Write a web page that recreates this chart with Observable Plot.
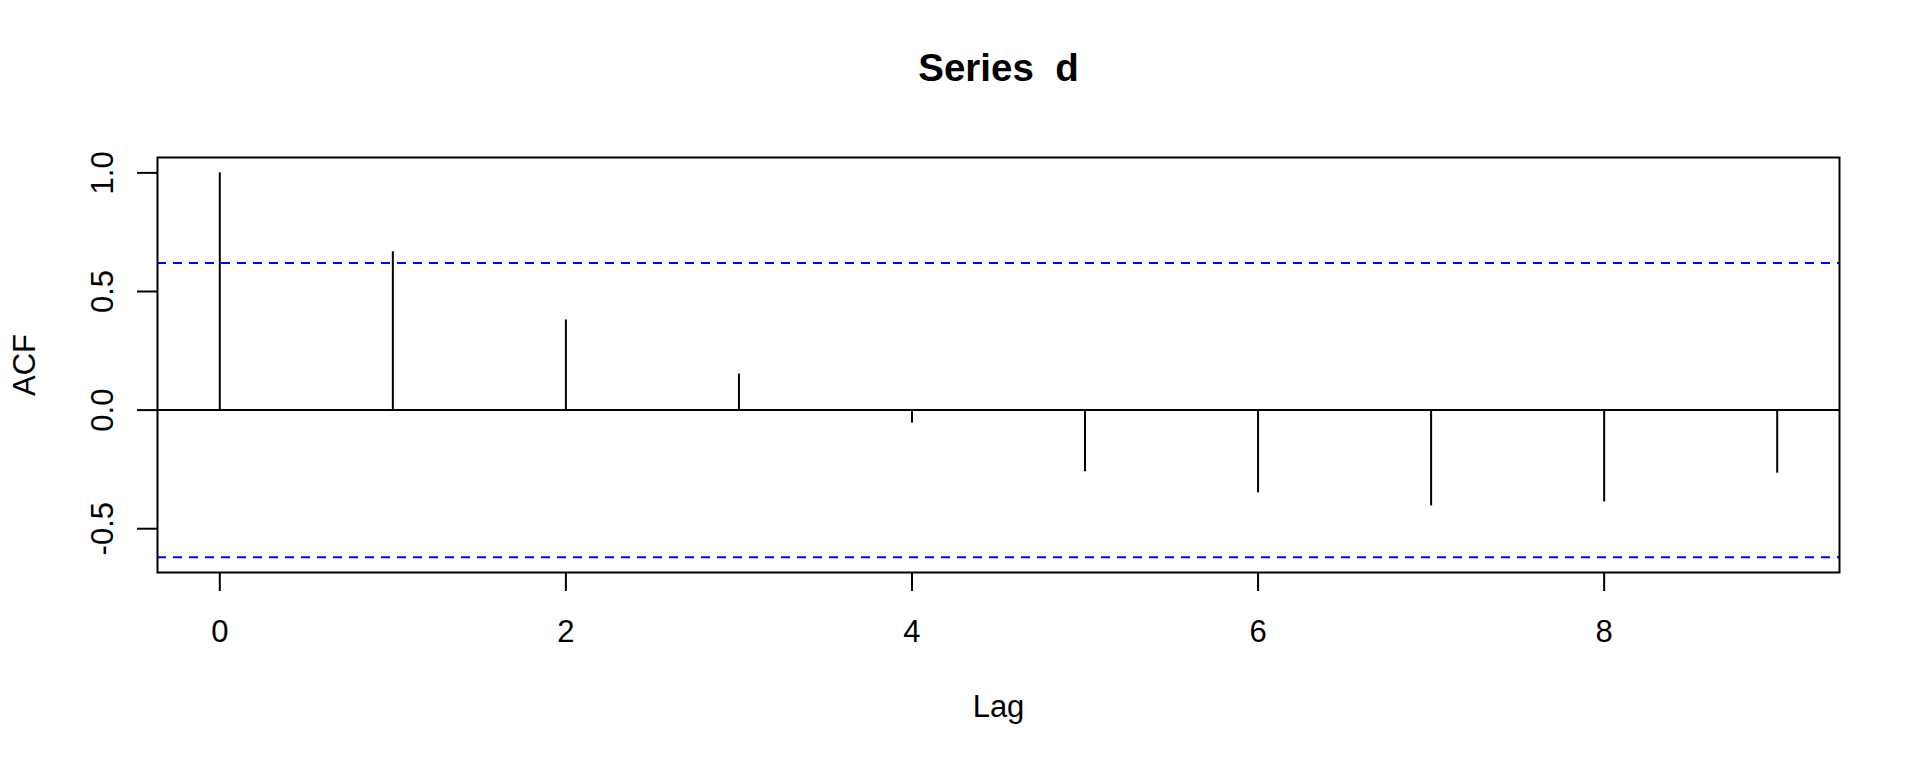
<!DOCTYPE html>
<html>
<head>
<meta charset="utf-8">
<script src="https://cdn.jsdelivr.net/npm/d3@7"></script>
<script src="https://cdn.jsdelivr.net/npm/@observablehq/plot@0.6"></script>
<style>
  html, body { margin: 0; padding: 0; background: #ffffff; }
  #chart svg { display: block; font-family: "Liberation Sans", Arial, Helvetica, sans-serif; }
</style>
</head>
<body>
<div id="chart"></div>
<script>
// ---- data ----
const lags = [0, 1, 2, 3, 4, 5, 6, 7, 8, 9];
const acfValues = [1.0, 0.668, 0.380, 0.152, -0.055, -0.260, -0.349, -0.404, -0.387, -0.266];
const ciBound = 0.6198;
const xTicks = [0, 2, 4, 6, 8];
const yTicks = [-0.5, 0, 0.5, 1.0];
const yTickLabels = ["-0.5", "0.0", "0.5", "1.0"];
const titleText = "Series  d";
const xLabel = "Lag";
const yLabel = "ACF";

const rows = lags.map((lag, i) => ({lag, acf: acfValues[i]}));

// R-style 4% axis extension
const xExt = (d3.max(lags) - d3.min(lags)) * 0.04;
const yMin = Math.min(d3.min(acfValues), -ciBound);
const yMax = Math.max(d3.max(acfValues), ciBound);
const yExt = (yMax - yMin) * 0.04;

const baseSize = 31;
const titleSize = 38.5;

const chart = Plot.plot({
  width: 1920,
  height: 768,
  marginTop: 157,
  marginBottom: 196,
  marginLeft: 157,
  marginRight: 81,
  style: {background: "#ffffff", fontFamily: "'Liberation Sans', Arial, Helvetica, sans-serif", overflow: "visible"},
  x: {domain: [d3.min(lags) - xExt, d3.max(lags) + xExt]},
  y: {domain: [yMin - yExt, yMax + yExt]},
  marks: [
    Plot.ruleY([0], {stroke: "black", strokeWidth: 2}),
    Plot.ruleY([ciBound, -ciBound], {stroke: "#0000ff", strokeWidth: 2, strokeDasharray: "9,7"}),
    Plot.ruleX(rows, {x: "lag", y1: 0, y2: "acf", stroke: "black", strokeWidth: 2}),
    Plot.frame({stroke: "black", strokeWidth: 2}),
    Plot.axisX({ticks: xTicks, tickSize: 19, tickPadding: 28, fontSize: baseSize, strokeWidth: 2, label: null, fill: "black"}),
    Plot.axisY({ticks: yTicks, tickSize: 20, tickPadding: 25, tickRotate: -90, fontSize: baseSize, strokeWidth: 2, label: null, fill: "black",
      tickFormat: (d) => yTickLabels[yTicks.indexOf(d)]}),
    Plot.text([titleText], {frameAnchor: "top", lineAnchor: "middle", textAnchor: "middle", dy: -89, fontSize: titleSize, fontWeight: "bold", fill: "black", text: (d) => d}),
    Plot.text([xLabel], {frameAnchor: "bottom", lineAnchor: "middle", textAnchor: "middle", dy: 135, fontSize: baseSize, fill: "black", text: (d) => d}),
    Plot.text([yLabel], {frameAnchor: "left", lineAnchor: "middle", textAnchor: "middle", dx: -132, rotate: -90, fontSize: baseSize, fill: "black", text: (d) => d})
  ]
});
document.getElementById("chart").appendChild(chart);
</script>
</body>
</html>
